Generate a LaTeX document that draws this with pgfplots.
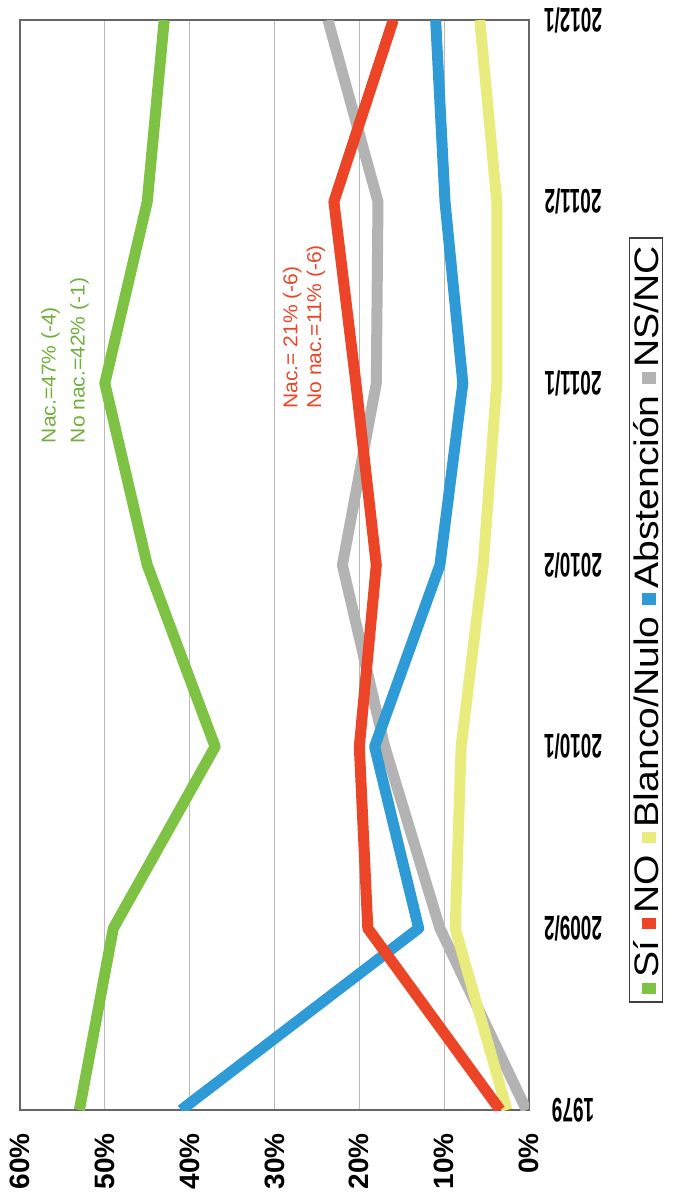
\documentclass[border=0pt]{standalone}
\usepackage{pgfplots}
\pgfplotsset{compat=1.18}
\usepackage{fontspec}
\setmainfont{Liberation Sans}
\definecolor{cSi}{HTML}{7DC242}
\definecolor{cNo}{HTML}{EC4426}
\definecolor{cBl}{HTML}{E9EC7C}
\definecolor{cAb}{HTML}{2E9BD6}
\definecolor{cNs}{HTML}{B3B3B3}
\newcommand{\mk}[1]{\textcolor{#1}{\rule[2pt]{10pt}{14pt}}\hspace{4pt}}
\begin{document}
\begin{tikzpicture}
\path[use as bounding box] (-20pt,-87pt) rectangle (659pt,1110pt);
\begin{axis}[
  at={(0pt,0pt)}, anchor=south west,
  scale only axis, width=509pt, height=1090pt,
  x dir=reverse, xmin=0, xmax=60, ymin=0, ymax=6,
  xtick={0,10,20,30,40,50,60},
  xticklabels={0\%,10\%,20\%,30\%,40\%,50\%,60\%},
  ytick={0,1,2,3,4,5,6},
  yticklabels={1979,2009/2,2010/1,2010/2,2011/1,2011/2,2012/1},
  yticklabel pos=right,
  xmajorgrids=true, ymajorgrids=false,
  grid style={draw=gray!55, line width=1pt},
  axis line style={draw=black!60, line width=2.5pt},
  major tick length=0pt,
  xticklabel style={font=\fontsize{28}{30}\selectfont\bfseries, rotate=90, anchor=east, inner sep=0pt},
  xticklabel shift=23pt,
  yticklabel style={font=\fontsize{20}{22}\selectfont\bfseries, rotate=180, xscale=0.95, yscale=1.7, anchor=center, inner sep=0pt},
  yticklabel shift=44pt,
  every axis plot/.append style={line width=11pt, line join=round},
]
\addplot[cNs] coordinates {(0.3,0) (10.5,1) (17,2) (22,3) (18,4) (17.8,5) (23.7,6)};
\addplot[cBl] coordinates {(2.6,0) (8.7,1) (8,2) (5.4,3) (3.8,4) (3.8,5) (5.8,6)};
\addplot[cAb] coordinates {(41,0) (13,1) (18.2,2) (10.5,3) (7.8,4) (9.9,5) (11,6)};
\addplot[cNo] coordinates {(3.4,0) (19,1) (20,2) (18,3) (20.4,4) (23,5) (16,6)};
\addplot[cSi] coordinates {(53,0) (49,1) (37,2) (45,3) (50,4) (45,5) (43,6)};
\node[rotate=90, xscale=1.05, anchor=west, inner sep=0pt, text=cSi!90!black, font=\fontsize{20}{22}\selectfont] at (axis cs:56.4,3.67) {Nac.=47\% (-4)};
\node[rotate=90, xscale=1.05, anchor=west, inner sep=0pt, text=cSi!90!black, font=\fontsize{20}{22}\selectfont] at (axis cs:53,3.67) {No nac.=42\% (-1)};
\node[rotate=90, xscale=1.05, anchor=west, inner sep=0pt, text=cNo, font=\fontsize{20}{22}\selectfont] at (axis cs:27.9,3.86) {Nac.= 21\% (-6)};
\node[rotate=90, xscale=1.05, anchor=west, inner sep=0pt, text=cNo, font=\fontsize{20}{22}\selectfont] at (axis cs:25.1,3.86) {No nac.=11\% (-6)};
\end{axis}
\node[rotate=90, xscale=1.15, draw=black!75, line width=1.2pt, inner xsep=7pt, inner ysep=4pt, font=\fontsize{34}{36}\selectfont] at (626pt,490pt)
 {\mk{cSi}Sí\hspace{10pt}\mk{cNo}NO\hspace{10pt}\mk{cBl}Blanco/Nulo\hspace{10pt}\mk{cAb}Abstención\hspace{10pt}\mk{cNs}NS/NC};
\end{tikzpicture}
\end{document}
